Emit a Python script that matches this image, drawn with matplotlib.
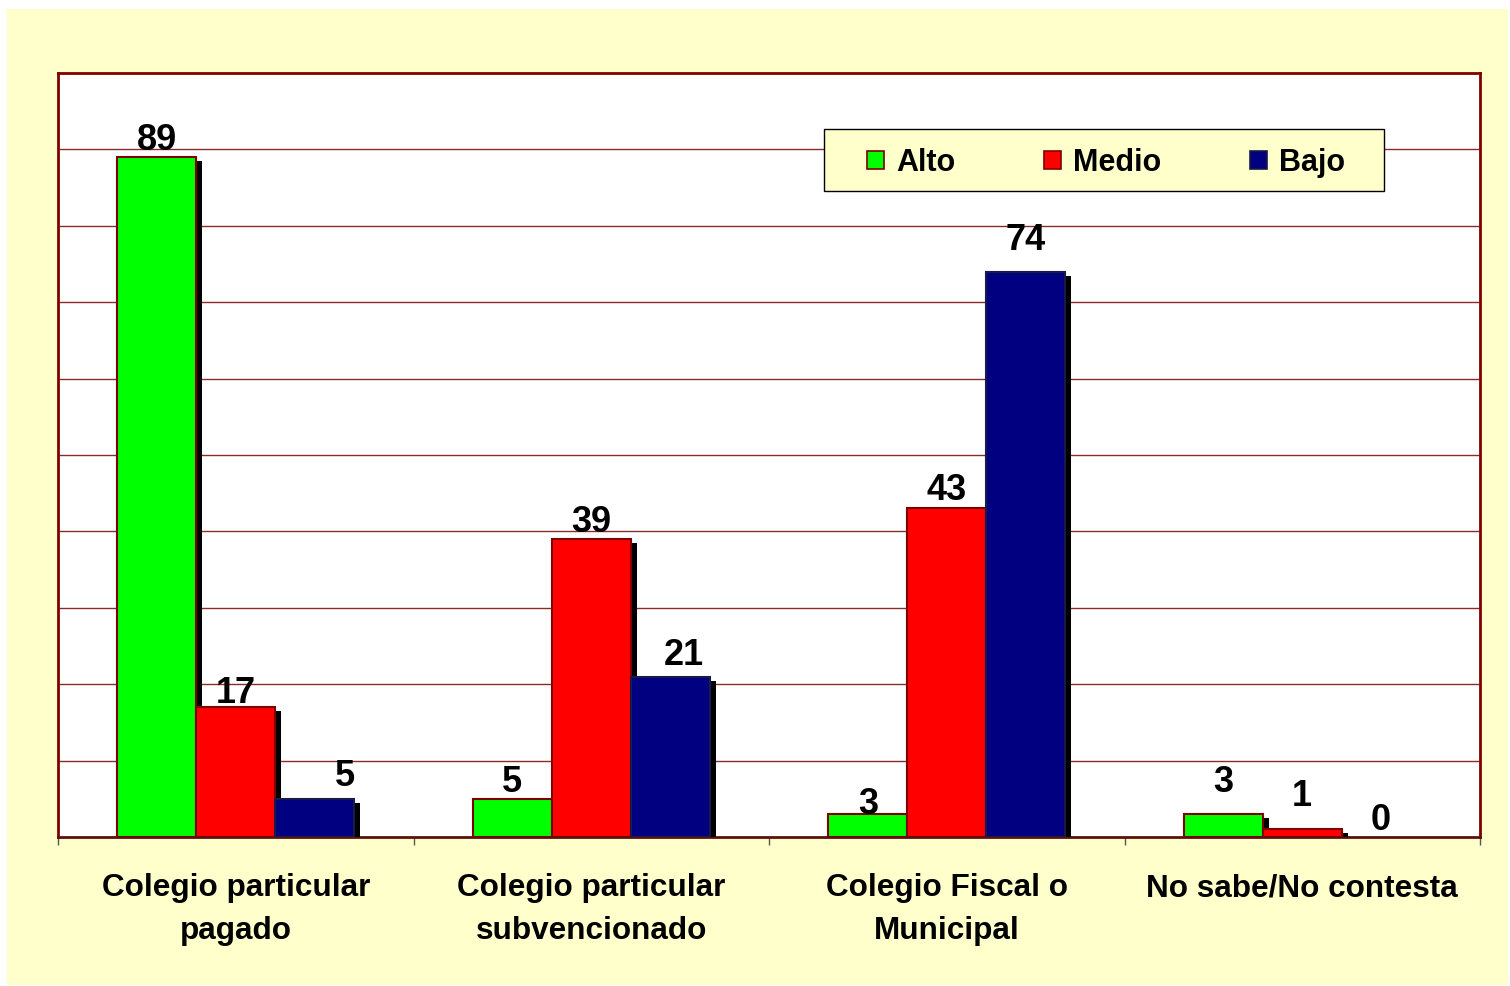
"""Bar chart: Alto / Medio / Bajo by tipo de colegio (Excel-style, shadows)."""

import matplotlib.pyplot as plt
import matplotlib.patheffects as pe
from matplotlib.patches import Patch, Rectangle
import numpy as np

CATEGORIES = [
    "Colegio particular\npagado",
    "Colegio particular\nsubvencionado",
    "Colegio Fiscal o\nMunicipal",
    "No sabe/No contesta",
]
SERIES = ["Alto", "Medio", "Bajo"]
ALTO = [89, 5, 3, 3]
MEDIO = [17, 39, 43, 1]
BAJO = [5, 21, 74, 0]

COLORS = ["#00ff00", "#ff0000", "#000080"]
EDGES = ["#800000", "#800000", "#1a1a4a"]
BG = "#ffffcc"
FRAME = "#800000"
GRIDC = "#8b2a2a"

# Excel placed some value labels off-centre; nudge in points, keyed (series, category)
NUDGE = {
    (2, 0): (22, 4.7), (2, 1): (10, 3.6), (2, 2): (0, 11), (0, 3): (0, 11),
    (1, 3): (0, 12), (0, 2): (0, -4.4), (1, 0): (0, -2), (1, 2): (0, 1.4),
}

plt.rcParams.update({
    "font.family": ["Liberation Sans", "DejaVu Sans"],
    "font.weight": "bold",
})

W, H = 1510, 986
fig = plt.figure(figsize=(W / 100, H / 100), dpi=100, facecolor="white")
fig.patches.append(Rectangle((7 / W, 1 / H), 1 - 9 / W, 1 - 10 / H,
                             transform=fig.transFigure, facecolor=BG,
                             edgecolor="none", zorder=-10))

ax = fig.add_axes([58 / W, (H - 837) / H, (1480 - 58) / W, (837 - 73) / H])
ax.set_facecolor("white")
ax.set_xlim(-0.5, len(CATEGORIES) - 0.5)
ax.set_ylim(0, 100)

ax.set_yticks(np.arange(10, 100, 10))
ax.tick_params(axis="y", length=0, labelleft=False)
ax.yaxis.grid(True, color=GRIDC, linewidth=1)
ax.set_axisbelow(True)

for s in ax.spines.values():
    s.set_color(FRAME)
    s.set_linewidth(2)
ax.spines["bottom"].set_color("#5a1010")

x = np.arange(len(CATEGORIES))
width = 0.222
shadow = [pe.SimplePatchShadow(offset=(4.3, -2.9), shadow_rgbFace="black", alpha=1.0),
          pe.Normal()]
for i, (name, vals) in enumerate(zip(SERIES, [ALTO, MEDIO, BAJO])):
    pos = x + (i - 1) * width
    bars = ax.bar(pos, vals, width, color=COLORS[i], edgecolor=EDGES[i],
                  linewidth=1.5, zorder=3)
    for b, v in zip(bars, vals):
        if v == 0:
            b.set_visible(False)
        b.set_path_effects(shadow)
    for j, (p, v) in enumerate(zip(pos, vals)):
        dx, dy = NUDGE.get((i, j), (0, 0))
        ax.annotate(f"{v}", (p, v), textcoords="offset points",
                    xytext=(dx, -1 + dy), ha="center", va="bottom",
                    fontsize=26, fontweight="bold", zorder=5)

ax.set_xticks(x, CATEGORIES)
ax.set_xticks(np.arange(-0.5, len(CATEGORIES)), minor=True)
ax.tick_params(axis="x", which="major", length=0, pad=26, labelsize=22.7)
ax.tick_params(axis="x", which="minor", length=6, width=1, color="#555555",
               direction="out")
for lab in ax.get_xticklabels():
    lab.set_fontweight("bold")
    lab.set_linespacing(1.55)
    lab.set_va("top")

# legend box
ax.add_patch(Rectangle(((824 - 58) / 1422, (837 - 191) / 764),
                       (1384 - 824) / 1422, (191 - 129) / 764,
                       transform=ax.transAxes, facecolor=BG, edgecolor="black",
                       linewidth=1, zorder=6))
handles = [Patch(facecolor=c, edgecolor=e, linewidth=1.2)
           for c, e in zip(COLORS, EDGES)]
leg = ax.legend(handles, SERIES, loc="center",
                bbox_to_anchor=((1106 - 58) / 1422, (837 - 163) / 764),
                ncol=3, frameon=False, handlelength=0.55,
                handleheight=0.55, handletextpad=0.4, columnspacing=2.9,
                prop={"weight": "bold", "size": 22})
leg.set_zorder(7)

fig.savefig("out.png", dpi=100, facecolor="white")
